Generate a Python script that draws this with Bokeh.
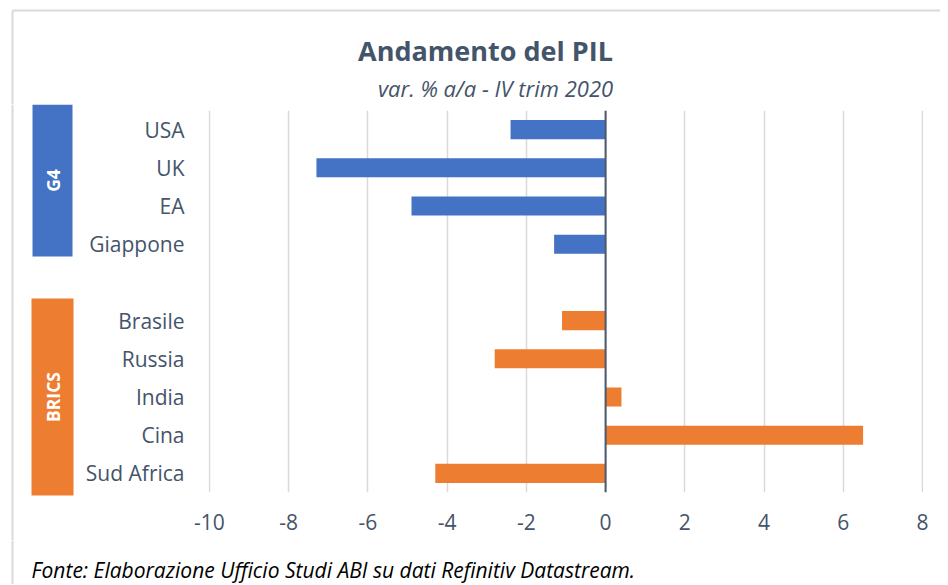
import math
from bokeh.plotting import figure
from bokeh.layouts import column, row
from bokeh.models import ColumnDataSource, FactorRange, Range1d, FixedTicker, Span
from bokeh.core.properties import value
from bokeh.embed import file_html
from bokeh.resources import INLINE

# ---------------- data ----------------
countries = ["USA", "UK", "EA", "Giappone", "Brasile", "Russia", "India", "Cina", "Sud Africa"]
values = [-2.4, -7.3, -4.9, -1.3, -1.1, -2.8, 0.4, 6.5, -4.3]
groups = ["G4", "G4", "G4", "G4", "BRICS", "BRICS", "BRICS", "BRICS", "BRICS"]
group_names = ["G4", "BRICS"]
group_colors = ["#4472C4", "#ED7D31"]
x_ticks = [-10, -8, -6, -4, -2, 0, 2, 4, 6, 8]
title_text = "Andamento del PIL"
subtitle_text = "var. % a/a - IV trim 2020"
source_text = "Fonte: Elaborazione Ufficio Studi ABI su dati Refinitiv Datastream."

# ---------------- layout constants (page pixels) ----------------
FONT = "Open Sans"
TXT = "#44546A"
BORDER = "#D9D9D9"
W = 940
TOP_H = 104          # top strip: border + titles
ROW_H = 436          # middle strip: group boxes + chart
BOT_H = 44           # bottom strip: source note
LEFT_W = 80          # width of group box strip
FRAME_L, FRAME_R, FRAME_T, FRAME_B = 208, 923, 110, 492
BX, BY = 12, 10      # chart border (left, top)


def no_align(f):
    try:
        f.frame_align = False
    except Exception:
        pass


def pixel_fig(w, h):
    f = figure(width=w, height=h, x_range=Range1d(0, w), y_range=Range1d(0, h),
               output_backend="svg", toolbar_location=None,
               x_axis_type=None, y_axis_type=None, min_border=0)
    f.outline_line_color = None
    f.grid.visible = False
    f.background_fill_color = "white"
    f.border_fill_color = "white"
    no_align(f)
    return f


# ---------------- top strip ----------------
top = pixel_fig(W, TOP_H)


def ty(py):
    return TOP_H - py


top.segment(x0=[BX, BX], y0=[ty(BY), ty(BY)], x1=[W, BX], y1=[ty(BY), 0],
            line_color=BORDER, line_width=2)
top.text(x=[485], y=[ty(50)], text=[title_text], text_align="center",
         text_baseline="middle", text_font=value(FONT), text_font_size=value("27px"),
         text_font_style="bold", text_color=TXT)
top.text(x=[495], y=[ty(87)], text=[subtitle_text], text_align="center",
         text_baseline="middle", text_font=value(FONT), text_font_size=value("22px"),
         text_font_style="italic", text_color=TXT)

# ---------------- left strip: group boxes ----------------
left = pixel_fig(LEFT_W, ROW_H)


def ly(py):
    return TOP_H + ROW_H - py


left.segment(x0=[BX], y0=[0], x1=[BX], y1=[ROW_H], line_color=BORDER, line_width=2)
g_boxes = {"G4": (32, 72, 104, 256), "BRICS": (31, 73, 298, 495)}
for name, col in zip(group_names, group_colors):
    l, r, t, b = g_boxes[name]
    left.quad(left=[l], right=[r], top=[ly(t)], bottom=[ly(b)], fill_color=col, line_color=None)
    left.text(x=[(l + r) / 2], y=[ly((t + b) / 2)], text=[name], angle=math.pi / 2,
              text_align="center", text_baseline="middle", text_font=value(FONT),
              text_font_size=value("17.5px"), text_font_style="bold", text_color="white")

# ---------------- main chart ----------------
gap = " "
factors_top_down = countries[:4] + [gap] + countries[4:]
factors = list(reversed(factors_top_down))

pad = 1.0 * (x_ticks[-1] - x_ticks[0]) / (FRAME_R - FRAME_L - 2)
main_w = W - LEFT_W
p = figure(width=main_w, height=ROW_H,
           y_range=FactorRange(factors=factors),
           x_range=Range1d(x_ticks[0] - pad, x_ticks[-1] + pad),
           output_backend="svg", toolbar_location=None,
           min_border_left=FRAME_L - LEFT_W,
           min_border_right=W - FRAME_R,
           min_border_top=FRAME_T - TOP_H,
           min_border_bottom=TOP_H + ROW_H - FRAME_B)
p.outline_line_color = None
p.background_fill_color = "white"
p.border_fill_color = "white"
no_align(p)

colors = [group_colors[group_names.index(g)] for g in groups]
source = ColumnDataSource(dict(country=countries, value=values, color=colors))
p.hbar(y="country", left=0, right="value", height=0.5,
       fill_color="color", line_color=None, source=source)

ticker = FixedTicker(ticks=x_ticks)
p.xaxis.ticker = ticker
p.xgrid.ticker = ticker
p.xgrid.grid_line_color = BORDER
p.xgrid.grid_line_width = 1.5
p.ygrid.grid_line_color = None
p.xaxis.major_label_overrides = {t: str(t) for t in x_ticks}

for ax in (p.xaxis, p.yaxis):
    ax.axis_line_color = None
    ax.major_tick_line_color = None
    ax.minor_tick_line_color = None
    ax.major_label_text_font = FONT
    ax.major_label_text_font_size = "21px"
    ax.major_label_text_color = TXT
p.xaxis.major_label_standoff = 15
p.yaxis.major_label_standoff = 18

p.add_layout(Span(location=0, dimension="height", line_color="#4D5A6E", line_width=2))

# ---------------- bottom strip: source ----------------
bot = pixel_fig(W, BOT_H)


def by(py):
    return TOP_H + ROW_H + BOT_H - py


bot.segment(x0=[BX], y0=[0], x1=[BX], y1=[BOT_H], line_color=BORDER, line_width=2)
bot.text(x=[31], y=[by(569)], text=[source_text], text_align="left",
         text_baseline="middle", text_font=value(FONT), text_font_size=value("21px"),
         text_font_style="italic", text_color="#000000")

layout = column(top, row(left, p), bot)
open("out.html", "w").write(file_html(layout, INLINE))
